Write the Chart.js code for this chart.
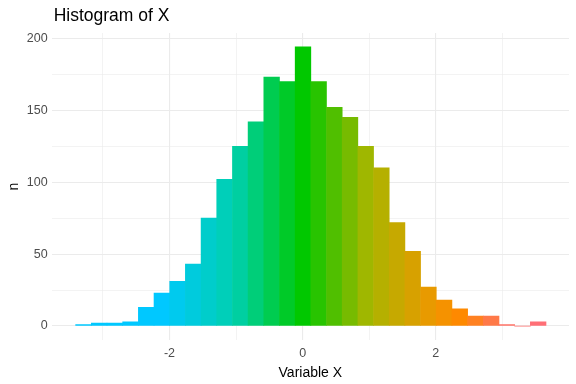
<!DOCTYPE html>
<html>
<head>
<meta charset="utf-8">
<script src="https://cdn.jsdelivr.net/npm/chart.js@4"></script>
<style>
  html, body { margin: 0; padding: 0; background: #ffffff; }
  #chart { display: block; }
</style>
</head>
<body>
<canvas id="chart" width="576" height="384"></canvas>
<script>
// Données de l'histogramme (30 classes)
const binCenters = [-3.292, -3.057, -2.821, -2.586, -2.350, -2.115, -1.879, -1.644, -1.408, -1.173,
                    -0.937, -0.702, -0.466, -0.231, 0.005, 0.240, 0.476, 0.711, 0.947, 1.182,
                    1.418, 1.653, 1.889, 2.124, 2.360, 2.595, 2.831, 3.066, 3.302, 3.537];
const counts = [1, 2, 2, 3, 13, 23, 31, 43, 75, 102,
                125, 142, 173, 170, 194, 170, 152, 145, 125, 110,
                72, 52, 27, 18, 12, 7, 7, 1, 0, 3];
const xTicks = [-3, -2, -1, 0, 1, 2, 3];
const xLabels = [-2, 0, 2];
const yTicks = [0, 25, 50, 75, 100, 125, 150, 175, 200];
const yLabels = [0, 50, 100, 150, 200];

const FONT = 'Arial, "Liberation Sans", sans-serif';

// Dégradé de couleur selon x
const colorStops = [
    [-2.1, [0, 200, 255]],
    [-1.0, [0, 208, 172]],
    [0.0, [0, 200, 0]],
    [1.0, [168, 182, 0]],
    [2.0, [240, 150, 0]],
    [2.4, [255, 136, 0]],
    [3.0, [255, 115, 100]],
    [3.6, [255, 110, 120]]
];

const colorAt = (x) => {
    if (x <= colorStops[0][0]) return `rgb(${colorStops[0][1].join(',')})`;
    for (let i = 1; i < colorStops.length; i++) {
        const [x1, c1] = colorStops[i];
        const [x0, c0] = colorStops[i - 1];
        if (x <= x1) {
            const t = (x - x0) / (x1 - x0);
            const c = c0.map((v, k) => Math.round(v + (c1[k] - v) * t));
            return `rgb(${c.join(',')})`;
        }
    }
    return `rgb(${colorStops[colorStops.length - 1][1].join(',')})`;
};

// Titre aligné sur le panneau (comme ggplot)
const panelTitle = {
    id: 'panelTitle',
    afterDraw: (chart) => {
        const c = chart.ctx;
        c.save();
        c.fillStyle = '#000000';
        c.font = `17.5px ${FONT}`;
        c.textAlign = 'left';
        c.textBaseline = 'alphabetic';
        c.fillText('Histogram of X', chart.chartArea.left + 2, 21);
        c.restore();
    }
};

const ctx = document.getElementById('chart').getContext('2d');
new Chart(ctx, {
    type: 'bar',
    data: {
        datasets: [{
            data: binCenters.map((x, i) => ({ x: x, y: counts[i] })),
            backgroundColor: binCenters.map(colorAt),
            borderWidth: 0,
            barPercentage: 1.0,
            categoryPercentage: 1.0
        }]
    },
    plugins: [panelTitle],
    options: {
        responsive: false,
        animation: false,
        layout: { padding: { left: 6, right: 7, top: 33, bottom: 2.6 } },
        plugins: {
            legend: { display: false },
            tooltip: { enabled: false }
        },
        scales: {
            x: {
                type: 'linear',
                offset: false,
                min: -3.77,
                max: 4.0,
                afterBuildTicks: (axis) => { axis.ticks = xTicks.map(v => ({ value: v })); },
                ticks: {
                    color: '#4D4D4D',
                    font: { family: FONT, size: 12.5 },
                    padding: 6.5,
                    maxRotation: 0,
                    autoSkip: false,
                    callback: (v) => xLabels.includes(v) ? String(v) : ''
                },
                grid: {
                    color: '#EBEBEB',
                    offset: false,
                    lineWidth: (c) => xLabels.includes(c.tick && c.tick.value) ? 1.1 : 0.6,
                    drawTicks: false
                },
                border: { display: false },
                title: {
                    display: true,
                    text: 'Variable X',
                    color: '#000000',
                    font: { family: FONT, size: 14 },
                    padding: { top: -3.4, bottom: 0 }
                }
            },
            y: {
                type: 'linear',
                min: -9.7,
                max: 203.7,
                afterBuildTicks: (axis) => { axis.ticks = yTicks.map(v => ({ value: v })); },
                ticks: {
                    color: '#4D4D4D',
                    font: { family: FONT, size: 12.5 },
                    padding: 4,
                    autoSkip: false,
                    callback: (v) => yLabels.includes(v) ? String(v) : ''
                },
                grid: {
                    color: '#EBEBEB',
                    lineWidth: (c) => yLabels.includes(c.tick && c.tick.value) ? 1.1 : 0.6,
                    drawTicks: false
                },
                border: { display: false },
                title: {
                    display: true,
                    text: 'n',
                    color: '#000000',
                    font: { family: FONT, size: 14 },
                    padding: { top: 0, bottom: 0 }
                }
            }
        }
    }
});
</script>
</body>
</html>
